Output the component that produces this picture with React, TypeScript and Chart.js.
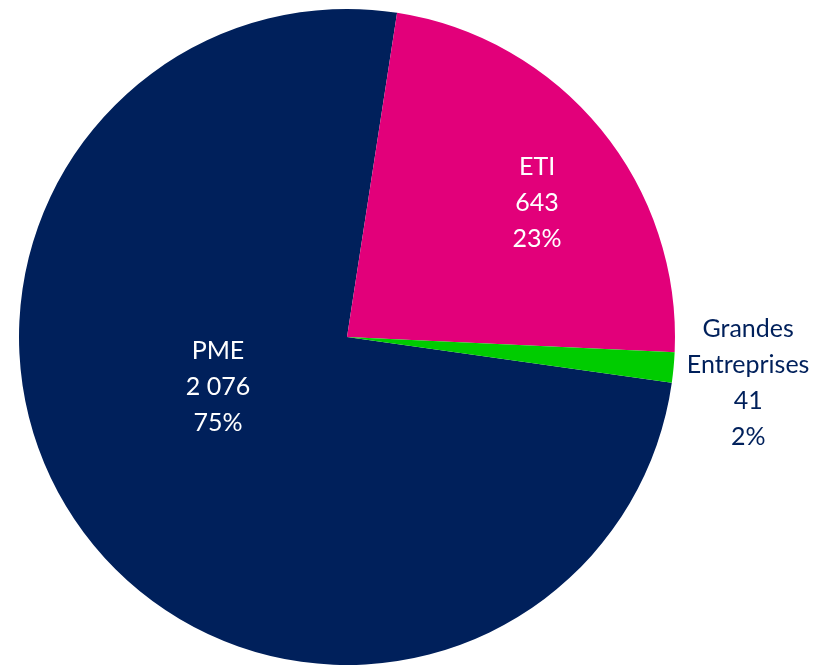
import React, { useEffect, useRef } from "react";
import { Chart, registerables } from "chart.js";

Chart.register(...registerables);

const categories = ["PME", "ETI", "Grandes Entreprises"];
const values = [2076, 643, 41];
const percentLabels = ["75%", "23%", "2%"];
const nameLines = [["PME"], ["ETI"], ["Grandes", "Entreprises"]];
const colors = ["#00205B", "#E2007A", "#00CC00"];
const labelColors = ["#FFFFFF", "#FFFFFF", "#00205B"];
// label placement: angle offset from slice middle (deg), radius fraction
const labelAngleOffset = [15.4, 4.1, 1.2];
const labelRadiusFrac = [0.422, 0.709, 1.231];

const fmt = (v: number) => String(v).replace(/\B(?=(\d{3})+(?!\d))/g, " ");

const labelPlugin = {
  id: "pieLabels",
  afterDatasetsDraw(chart: any) {
    const ctx = chart.ctx;
    const meta = chart.getDatasetMeta(0);
    ctx.save();
    ctx.font = '25px Lato, "Open Sans", sans-serif';
    ctx.textAlign = "center";
    ctx.textBaseline = "middle";
    meta.data.forEach((arc: any, i: number) => {
      const p = arc.getProps(["x", "y", "startAngle", "endAngle", "outerRadius"], true);
      const a = (p.startAngle + p.endAngle) / 2 + (labelAngleOffset[i] * Math.PI) / 180;
      const r = p.outerRadius * labelRadiusFrac[i];
      const cx = p.x + Math.cos(a) * r;
      const cy = p.y + Math.sin(a) * r;
      const lines = [...nameLines[i], fmt(values[i]), percentLabels[i]];
      const lh = 36;
      const y0 = cy - ((lines.length - 1) * lh) / 2;
      ctx.fillStyle = labelColors[i];
      lines.forEach((t, k) => ctx.fillText(t, cx, y0 + k * lh));
    });
    ctx.restore();
  },
};

export default function App() {
  const ref = useRef<HTMLCanvasElement>(null);
  useEffect(() => {
    document.body.style.margin = "0";
    const chart = new Chart(ref.current!, {
      type: "pie",
      data: {
        labels: categories,
        datasets: [
          {
            data: values,
            backgroundColor: colors,
            borderWidth: 0,
          },
        ],
      },
      options: {
        animation: false,
        responsive: false,
        rotation: 98,
        layout: { padding: { left: 19, top: 9, right: 144, bottom: 0 } },
        plugins: {
          legend: { display: false },
          tooltip: { enabled: false },
        },
      },
      plugins: [labelPlugin],
    });
    return () => chart.destroy();
  }, []);
  return (
    <div style={{ position: "absolute", left: 0, top: 0, width: 819, height: 665, background: "#fff" }}>
      <canvas ref={ref} width={819} height={665} />
    </div>
  );
}
